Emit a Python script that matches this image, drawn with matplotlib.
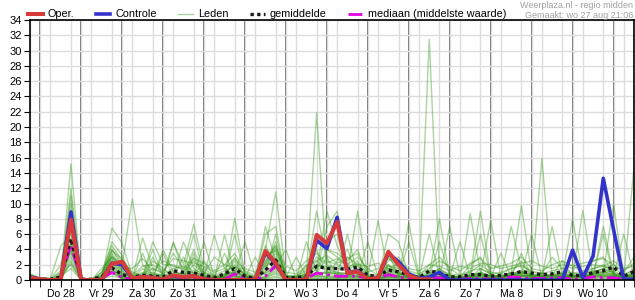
import numpy as np
import matplotlib
matplotlib.use('Agg')
import matplotlib.pyplot as plt

plt.rcParams['font.family'] = ['Liberation Sans', 'DejaVu Sans']

# uren vanaf do 28 aug 00:00, stap van 6 uur (wo 27 18:00 t/m do 11 12:00)
hours = np.arange(-6, 349, 6)

day_labels = ['Do 28', 'Vr 29', 'Za 30', 'Zo 31', 'Ma 1', 'Di 2', 'Wo 3',
              'Do 4', 'Vr 5', 'Za 6', 'Zo 7', 'Ma 8', 'Di 9', 'Wo 10']
day_mid = np.arange(12, 336, 24)
day_bounds = np.arange(0, 337, 24)

nan = np.nan
oper = [0.3,
        0.1, 0, 0, 7.9,   0, 0, 0, 2.1,   2.4, 0.2, 0.4, 0.3,   0.1, 0.6, 0.4, 0.5,
        0.1, 0, 0, 0,     0, 0, 3.8, 2.2, 0, 0, 0, 5.9,        4.8, 7.6, 0.9, 1.1,
        0.1, 0.3, 3.7, 2.0, 0.6, 0.1, 0.1, nan, nan, nan, nan, nan,
        nan, nan, nan, nan, nan, nan, nan, nan, nan, nan, nan, nan,
        nan, nan, nan]
controle = [0.4,
            0.1, 0, 0, 8.9,   0, 0, 0, 2.2,   2.0, 0.2, 0.4, 0.3,   0.1, 0.5, 0.4, 0.5,
            0.1, 0, 0, 0,     0, 0, 3.6, 2.1, 0, 0, 0, 5.2,        4.1, 8.2, 0.9, 1.2,
            0.1, 0.3, 3.5, 2.4, 0.8, 0.2, 0.4, 1.0, 0, 0, 0, 0,
            0, 0, 0, 0,       0, 0, 0, 0,     3.9, 0.3, 3.1, 13.3,
            6.6, 0.1, 0.1]
gemiddelde = [0.3,
              0.1, 0.1, 0.4, 5.4,  0.1, 0.1, 0.4, 1.6,  0.7, 0.4, 0.6, 0.5,  0.4, 1.2, 1.0, 0.9,
              0.6, 0.3, 0.8, 1.5,  0.5, 0.2, 1.3, 2.6,  0.3, 0.3, 0.5, 1.8,  1.5, 1.5, 1.4, 1.7,
              0.6, 0.5, 1.3, 1.1,  0.6, 0.3, 1.2, 0.9,  0.4, 0.4, 0.7, 0.7,  0.5, 0.6, 0.8, 1.1,
              0.9, 0.7, 0.8, 1.1,  0.6, 0.6, 0.95, 1.2, 1.7, 0.5, 1.1]
mediaan = [0.2,
           0, 0, 0.2, 4.6,   0, 0, 0.2, 1.0,   0.3, 0.1, 0.2, 0.2,   0.1, 0.4, 0.3, 0.3,
           0.2, 0.1, 0.1, 0.8, 0.2, 0.1, 0.5, 1.9, 0.1, 0.1, 0.2, 0.9, 0.7, 0.5, 0.5, 0.5,
           0.2, 0.2, 0.7, 0.4, 0.2, 0.1, 0.3, 0.3, 0.1, 0.1, 0.2, 0.2, 0.1, 0.2, 0.4, 0.3,
           0.2, 0.2, 0.3, 0.3, 0.1, 0.2, 0.4, 0.3, 0.3, 0.1, 0.2]

# ensembleleden (geschat uit de grafiek)
leden = [
    [0.5, 0.1,0,0.3,15.2, 0,0,0.4,3.0, 2.0,10.6,2.0,0.8, 0.5,1.2,0.6,2.0, 0.8,0.3,0.5,1.0, 0.4,0.2,2.0,3.5, 0.3,0.2,0.5,2.0, 1.5,1.0,0.8,1.5, 0.4,0.3,2.0,1.0, 0.5,0.2,0.3,0.8, 0.2,0.1,0.5,1.0, 0.5,0.3,0.8,1.2, 0.5,0.8,0.4,0.3, 0.6,0.5,0.9,1.5, 1.0,0.4,0.8],
    [0.3, 0,0,0.2,12.0, 0,0,0.2,6.8, 4.8,0.5,1.0,0.5, 0.3,4.8,2.0,7.3, 1.5,0.5,0.3,0.8, 0.3,0.1,4.0,11.5, 0.5,0.3,0.8,3.0, 2.0,1.5,3.0,2.0, 0.3,0.5,1.5,0.8, 0.6,0.3,31.5,1.0, 0.3,0.5,0.3,1.5, 0.8,0.4,1.0,2.5, 0.4,1.0,0.5,0.6, 0.5,0.8,1.2,1.0, 0.6,0.3,1.2],
    [0.2, 0.1,0.1,0.5,10.0, 0,0,0.5,5.0, 3.2,0.3,5.5,1.5, 1.0,3.5,1.5,1.0, 0.5,0.2,0.4,8.1, 0.8,0.2,1.5,4.0, 0.4,0.3,1.0,21.9, 1.0,0.8,0.5,1.0, 0.2,0.4,1.0,0.5, 0.3,0.1,0.5,0.4, 0.2,0.2,0.8,9.0, 0.5,0.3,0.6,1.0, 0.3,0.5,0.3,0.4, 0.4,0.3,0.6,0.8, 0.5,0.2,0.6],
    [0.6, 0.2,0.1,1.0,9.0, 0,0,1.0,4.5, 2.5,1.0,0.5,5.0, 2.0,2.0,1.2,6.0, 0.5,5.9,1.5,0.5, 0.3,0.3,7.0,2.5, 0.5,0.2,0.3,1.5, 9.0,4.5,1.5,1.0, 0.5,0.3,3.0,1.5, 0.4,0.2,1.0,0.6, 0.4,0.3,0.4,0.6, 0.3,0.2,7.0,1.5, 0.6,0.4,0.5,0.8, 0.8,0.5,1.5,2.0, 0.8,0.5,1.5],
    [0.4, 0.1,0,0.4,8.0, 0,0.1,0.3,4.0, 1.8,0.2,3.5,0.3, 4.0,1.0,0.8,0.5, 5.0,0.4,0.6,1.5, 0.5,0.3,1.0,6.0, 0.2,0.1,5.0,1.0, 0.8,0.5,6.0,0.5, 5.0,0.4,0.5,0.3, 0.5,0.3,0.8,8.0, 0.5,0.3,0.5,0.8, 0.4,0.5,1.0,9.7, 0.8,0.5,0.8,1.0, 1.0,0.6,0.8,1.2, 0.6,0.4,0.8],
    [0.3, 0,0,0.2,7.0, 0,0,0.1,3.5, 1.5,0.4,0.5,4.0, 0.5,0.6,0.3,3.0, 0.3,0.2,5.9,0.8, 5.0,0.5,0.8,2.0, 0.3,0.4,0.6,0.8, 7.0,9.0,1.0,9.0, 0.4,0.5,2.0,0.6, 0.3,0.3,0.5,0.3, 0.2,0.1,0.4,0.5, 0.5,0.2,0.8,0.6, 0.4,0.3,0.5,0.8, 0.6,0.4,0.6,0.6, 0.4,0.3,0.5],
    [0.8, 0.3,0.2,4.4,6.0, 0.1,0,1.5,3.0, 1.2,0.1,0.3,0.5, 0.3,0.5,5.0,1.5, 0.5,0.3,0.3,6.0, 0.4,0.2,2.5,4.5, 0.4,0.3,0.4,2.5, 1.2,1.0,0.8,1.8, 0.5,7.8,0.8,0.5, 0.4,0.3,0.6,1.5, 0.3,0.2,8.7,1.0, 0.4,0.3,0.5,0.8, 0.3,15.9,0.4,0.6, 0.5,0.3,0.8,1.0, 1.2,0.5,0.6],
    [0.2, 0,0,0.3,5.5, 0,0,0.3,2.5, 1.0,0.2,0.2,0.3, 0.2,0.4,0.3,0.8, 0.4,0.2,0.3,0.6, 0.3,0.2,6.0,7.0, 0.2,0.1,0.3,6.0, 5.0,6.0,0.8,0.5, 0.3,0.2,6.0,5.0, 0.5,0.2,0.4,0.5, 0.2,0.2,0.3,0.4, 0.3,0.2,0.4,0.5, 0.6,0.3,0.5,0.4, 0.5,0.5,0.6,7.0, 0.8,0.3,14.8],
    [0.4, 0.1,0,0.3,5.0, 0,0,0.2,2.5, 0.8,0.3,0.4,3.0, 0.4,0.3,0.5,0.4, 0.3,0.2,0.5,2.5, 0.3,0.2,0.5,1.2, 0.4,3.0,0.5,0.5, 0.5,0.4,0.5,0.5, 0.3,0.2,0.4,0.4, 7.5,0.5,0.4,0.3, 7.0,0.5,0.4,0.6, 0.5,0.5,0.5,0.8, 0.4,0.6,0.4,0.5, 8.0,0.4,0.5,0.6, 0.5,0.3,0.5],
    [0.1, 0,0,0.2,4.8, 0,0,0.2,2.2, 0.6,0.2,0.3,0.4, 3.5,0.3,0.4,3.5, 0.4,0.3,3.5,0.5, 0.3,3.0,0.5,1.8, 4.0,0.2,0.4,4.0, 0.5,0.3,0.4,0.4, 0.4,0.2,0.5,0.4, 0.4,0.3,6.0,0.5, 0.4,5.0,0.4,0.5, 0.6,0.5,0.6,0.6, 6.0,0.4,0.5,0.4, 0.4,9.1,0.5,0.5, 0.4,0.2,0.4],
    [0.3, 0.1,0,0.2,4.5, 0,0,0.1,2.0, 0.5,0.2,0.2,0.3, 0.3,0.2,0.4,0.5, 0.3,0.2,0.3,3.0, 0.4,0.2,4.5,2.2, 0.3,0.2,0.4,0.8, 3.0,0.4,0.5,0.6, 0.3,0.3,3.5,0.4, 5.0,0.3,0.5,0.4, 0.3,0.2,0.4,6.0, 0.4,3.5,0.4,0.5, 0.4,0.3,0.5,0.5, 0.5,0.4,0.6,0.8, 10.0,0.5,0.6],
    [0.5, 0.1,0.1,0.2,4.2, 0,0,0.3,1.8, 0.4,0.1,0.2,0.2, 0.2,0.3,0.3,0.3, 0.3,0.2,0.4,0.5, 0.3,0.2,0.4,1.5, 0.3,0.1,0.5,0.6, 0.4,2.5,4.0,0.5, 0.3,0.3,0.4,2.5, 0.3,0.2,0.3,5.0, 0.5,0.3,0.5,0.5, 7.8,0.4,0.5,0.6, 0.5,0.4,7.0,0.5, 0.4,0.3,0.4,0.5, 0.5,6.0,0.5],
    [0.2, 0,0,0.1,4.0, 0,0,0.2,1.5, 0.3,0.1,0.1,0.2, 0.2,0.2,0.2,0.3, 0.2,0.1,0.2,0.4, 0.2,0.1,0.3,1.0, 0.2,0.1,0.3,0.5, 0.3,0.3,0.4,0.4, 0.2,0.3,0.4,0.3, 0.3,0.2,0.3,0.4, 0.3,0.2,0.3,0.4, 0.3,0.4,0.5,3.5, 0.4,0.3,0.4,0.4, 0.3,0.4,0.5,6.0, 0.4,0.3,0.5],
    [0.4, 0.1,0,0.2,3.5, 0,0,0.2,1.5, 0.2,0.1,0.1,0.1, 0.1,0.2,0.1,0.2, 0.2,0.1,0.2,0.3, 0.2,0.1,0.3,0.8, 0.2,0.1,0.2,0.3, 0.2,0.2,0.3,0.3, 0.2,0.2,0.3,0.3, 0.2,0.1,0.2,0.3, 0.2,0.2,0.3,0.3, 0.3,0.2,0.3,0.4, 0.3,0.2,0.3,0.3, 0.3,0.3,0.4,0.4, 0.3,0.2,0.4],
    [0.3, 0,0,0.1,3.0, 0,0,0.1,1.2, 0.2,0.1,0.1,0.1, 0.1,0.1,0.1,0.1, 0.1,0.1,0.1,0.2, 0.1,0.1,0.2,0.5, 0.1,0.1,0.2,0.2, 0.1,0.1,0.2,0.2, 0.1,0.1,0.2,0.2, 0.1,0.1,0.2,0.2, 0.1,0.1,0.2,0.2, 0.2,0.1,0.2,0.3, 0.2,0.1,0.2,0.2, 0.2,0.2,0.3,0.3, 0.2,0.1,0.3],
    [0.2, 0,0,0.1,2.5, 0,0,0.1,1.0, 0.1,0.1,0.1,0.1, 0.1,0.1,0.1,0.1, 0.1,0.1,0.1,0.1, 0.1,0.1,0.1,0.3, 0.1,0.1,0.1,0.1, 0.1,0.1,0.1,0.1, 0.1,0.1,0.1,0.1, 0.1,0.1,0.1,0.1, 0.1,0.1,0.1,0.1, 0.1,0.1,0.1,0.2, 0.1,0.1,0.1,0.1, 0.1,0.1,0.2,0.2, 0.1,0.1,0.2],
    [0.6, 0.2,0.1,0.8,2.0, 0,0,0.3,0.8, 0.5,0.1,0.2,2.5, 1.5,0.4,3.0,0.6, 2.5,0.3,0.4,1.2, 0.5,0.3,3.0,3.0, 0.4,0.3,2.0,1.2, 4.0,3.5,2.5,4.0, 0.5,0.4,1.2,0.8, 0.4,0.3,0.5,0.4, 0.6,0.3,2.0,3.0, 0.4,0.3,0.5,0.5, 0.5,0.5,0.6,2.5, 0.5,0.4,2.5,3.0, 0.8,0.4,0.5],
    [0.3, 0.1,0,0.5,1.5, 0,0,0.2,0.5, 0.3,0.2,0.3,0.5, 0.5,0.6,0.4,1.0, 0.6,0.3,0.5,1.0, 0.4,0.2,1.2,2.0, 0.3,0.3,0.5,0.8, 1.0,0.8,0.6,0.8, 0.4,0.3,0.8,0.5, 0.4,0.3,0.4,0.3, 0.3,0.3,0.5,0.8, 0.5,0.4,0.6,1.0, 0.5,0.4,0.5,0.6, 0.5,0.5,0.7,0.8, 0.6,0.4,0.6],
    [0.5, 0.1,0.1,0.3,6.5, 0,0,0.6,3.0, 1.5,0.5,0.8,1.0, 0.6,5.0,0.8,4.0, 0.8,3.0,2.0,3.5, 1.0,0.4,2.0,5.0, 0.6,0.5,1.5,5.0, 4.0,3.0,2.0,3.0, 1.5,0.6,2.5,3.0, 1.0,0.5,2.0,3.0, 1.5,0.6,1.0,2.0, 1.0,0.8,1.5,2.0, 1.0,0.8,3.0,1.5, 2.0,1.0,1.0,1.5, 2.0,1.0,3.0],
    [0.4, 0.1,0,0.4,11.0, 0,0.1,0.5,4.0, 2.2,0.3,1.5,0.6, 0.5,0.5,1.0,2.5, 1.0,0.4,0.8,2.0, 0.6,0.3,2.5,4.5, 0.5,0.4,0.8,9.0, 2.5,2.0,1.5,2.5, 0.6,0.4,1.5,1.0, 0.8,0.4,0.8,1.5, 0.6,0.4,0.6,1.0, 0.5,0.5,0.8,1.2, 0.6,0.5,0.6,0.8, 0.6,0.5,1.0,1.5, 0.8,0.4,0.8],
    [0.5, 0.2,0.1,2.0,8.5, 0,0,0.8,3.8, 2.8,0.6,1.8,2.0, 1.2,2.8,2.5,2.2, 1.8,1.0,1.5,2.8, 1.2,0.6,3.2,3.8, 1.0,0.8,1.8,2.5, 3.2,2.2,2.8,3.5, 1.0,1.5,2.8,2.0, 1.2,0.8,1.5,2.5, 1.8,1.2,2.2,2.8, 1.5,1.8,2.2,3.0, 1.5,1.2,2.0,2.5, 1.8,2.2,2.5,2.8, 2.0,1.2,2.2],
    [0.7, 0.2,0.1,1.2,7.5, 0,0.1,1.0,3.2, 1.8,1.5,2.8,1.2, 2.5,1.8,1.5,2.8, 2.2,1.2,2.0,1.5, 1.5,1.0,2.2,4.2, 1.8,1.2,2.5,3.5, 2.2,2.8,1.8,2.0, 1.8,2.2,1.5,2.2, 1.5,1.2,2.0,1.8, 1.2,1.8,1.5,2.2, 2.0,1.5,1.8,2.2, 2.5,1.8,1.5,2.0, 1.5,1.8,2.0,1.8, 2.5,1.5,1.8],
    [0.3, 0.1,0,0.6,3.8, 0,0,0.5,2.8, 1.2,0.4,0.8,1.5, 0.8,1.5,1.8,1.2, 1.0,0.6,1.2,1.8, 0.8,0.4,1.8,2.8, 0.6,0.5,1.2,1.8, 1.8,1.5,1.2,2.2, 0.8,0.6,1.8,1.5, 0.8,0.5,1.2,1.2, 0.8,0.6,1.2,1.5, 0.8,1.0,1.5,1.8, 1.2,0.8,1.2,1.5, 0.8,1.2,1.5,1.8, 1.5,0.8,1.2],
    [0.2, 0,0,0.2,2.2, 0,0,0.4,1.2, 0.8,0.3,0.6,0.8, 0.6,0.9,0.8,1.0, 0.6,0.4,0.8,1.0, 0.5,0.3,1.0,1.5, 0.4,0.3,0.6,1.0, 1.0,0.8,0.9,1.0, 0.5,0.4,1.0,0.8, 0.5,0.3,0.6,0.8, 0.5,0.4,0.6,0.8, 0.5,0.6,0.8,1.0, 0.6,0.5,0.7,0.8, 0.5,0.6,0.8,1.0, 0.8,0.5,0.7],
]

fig = plt.figure(figsize=(6.35, 3.0), dpi=100)
ax = fig.add_axes([30 / 635, 20 / 300, 604 / 635, 260 / 300])

for k, lid in enumerate(leden):
    ax.plot(hours, lid, color='#3a9a1c', alpha=0.42, lw=1.0, zorder=3,
            label='Leden' if k == 0 else None)
ax.plot(hours, mediaan, color='#e000e0', lw=2, ls=(0, (5, 1.5, 1, 1.5)), zorder=4,
        label='mediaan (middelste waarde)')
ax.plot(hours, gemiddelde, color='#1a1a1a', lw=2.4, ls=(0, (1, 1)), zorder=5,
        label='gemiddelde')
ax.plot(hours, controle, color='#3333cc', lw=2.6, zorder=6, label='Controle')
ax.plot(hours, oper, color='#d63a3a', lw=2.9, zorder=7, label='Oper.')

ax.set_xlim(-6, 348)
ax.set_ylim(0, 34)
ax.set_yticks(np.arange(0, 35, 2))
ax.set_xticks(day_mid)
ax.set_xticklabels(day_labels)
ax.set_xticks(hours, minor=True)
ax.tick_params(axis='both', labelsize=8, length=4, color='black', pad=2)
ax.tick_params(axis='x', which='both', length=5, pad=1.5, labelsize=7.5)

ax.grid(True, which='minor', axis='x', color='#dcdcdc', lw=1, zorder=0)
ax.grid(True, which='major', axis='y', color='#dcdcdc', lw=1, zorder=0)
for b in day_bounds:
    ax.axvline(b, color='#555555', lw=1.2, zorder=1)
for s in ax.spines.values():
    s.set_color('black')
    s.set_linewidth(1.2)
    s.set_zorder(8)

handles, labels = ax.get_legend_handles_labels()
order = ['Oper.', 'Controle', 'Leden', 'gemiddelde', 'mediaan (middelste waarde)']
hl = dict(zip(labels, handles))
fig.legend([hl[o] for o in order], order, loc='center left', bbox_to_anchor=(0.044, 0.952),
           ncol=5, frameon=False, fontsize=7.8, handlelength=1.35, handletextpad=0.45,
           columnspacing=2.0, borderpad=0, borderaxespad=0)

fig.text(0.997, 0.998, 'Weerplaza.nl - regio midden', ha='right', va='top',
         fontsize=6.5, color='#a0a0a0')
fig.text(0.997, 0.965, 'Gemaakt: wo 27 aug 21:06', ha='right', va='top',
         fontsize=6.5, color='#a0a0a0')

fig.savefig('out.png', dpi=100)
